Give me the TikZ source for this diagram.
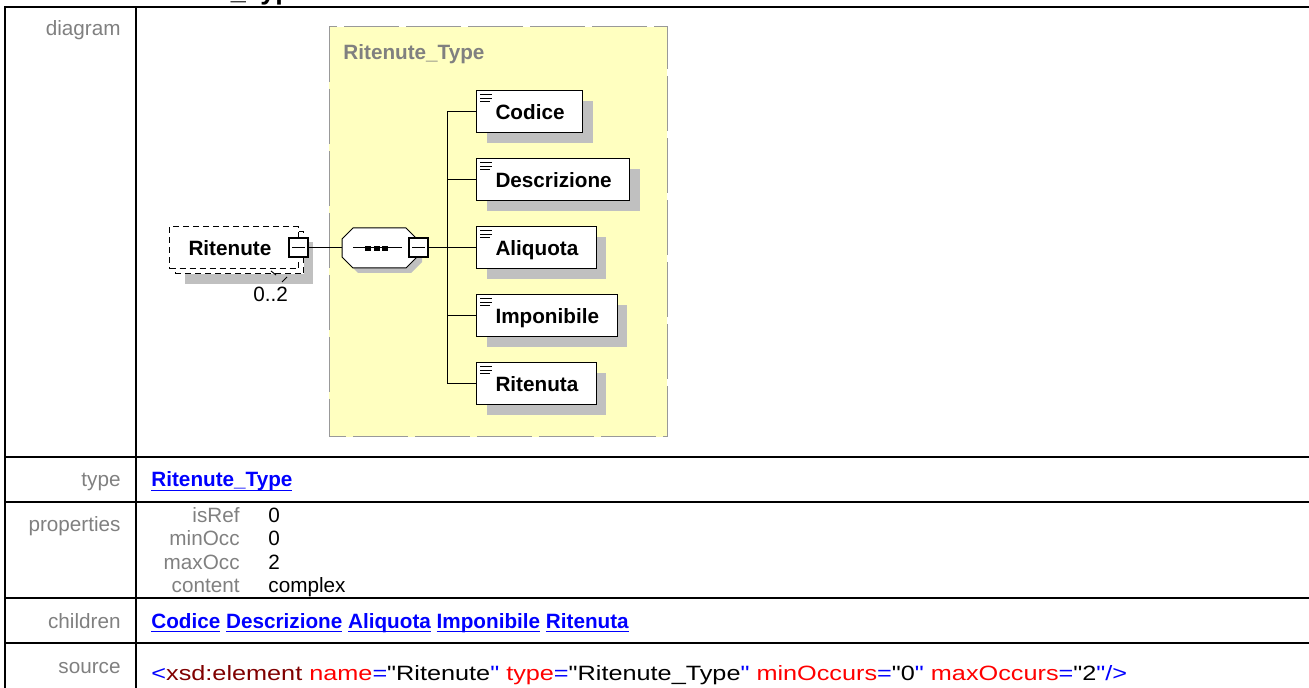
\documentclass[tikz,border=0pt]{standalone}
\usepackage{fontspec}
\setmainfont{Liberation Sans}
\usepackage{tikz}
\usetikzlibrary{calc}
\usetikzlibrary{shadows}
\definecolor{labelgrey}{HTML}{808080}
\definecolor{linkblue}{HTML}{0000FF}
\definecolor{shadowgrey}{HTML}{C0C0C0}
\definecolor{typeyellow}{HTML}{FFFFC0}
\definecolor{xsdred}{HTML}{FF0000}
\definecolor{xsddark}{HTML}{800000}
\newcommand{\docfont}{\fontsize{10.35}{12}\selectfont}
\newcommand{\ulink}[1]{\setbox0\hbox{#1}\rlap{\rule[-2.2pt]{\wd0}{0.9pt}}\box0\relax}
\newcommand{\qt}{\XeTeXglyph\XeTeXcharglyph"22\relax}

\begin{document}
\begin{tikzpicture}[x=0.5pt, y=-0.5pt, font=\docfont,
    rule/.style={line width=1pt},
    rowlabel/.style={anchor=base east, text=labelgrey, inner sep=0pt},
    rowtext/.style={anchor=base west, inner sep=0pt},
    link/.style={rowtext, text=linkblue, font=\docfont\bfseries},
    boxbase/.style={draw, line width=0.5pt, fill=white, anchor=west, inner sep=0pt,
      minimum height=21pt, text height=7.4pt, text depth=0pt, font=\docfont\bfseries,
      execute at begin node={\hspace*{9.5pt}}},
    elbox/.style={boxbase, execute at end node={\hspace*{9pt}},
      drop shadow={shadow xshift=5pt, shadow yshift=-5pt, fill=shadowgrey, opacity=1}},
    rootbox/.style={boxbase, dash pattern=on 3pt off 2pt, execute at end node={\hspace*{13.5pt}},
      drop shadow={shadow xshift=7.5pt, shadow yshift=-7.5pt, fill=shadowgrey, opacity=1},
      general shadow={shadow scale=1, shadow xshift=2.75pt, shadow yshift=-2.5pt, draw, fill=white,
        line width=0.5pt, dash pattern=on 3pt off 2pt}},
    minusbox/.style={draw, line width=1pt, fill=white, minimum size=9.5pt, inner sep=0pt,
      path picture={\draw[line width=0.5pt] ([xshift=1.5pt]path picture bounding box.west) -- ([xshift=-1.5pt]path picture bounding box.east);}}
  ]
    \useasboundingbox (0,0) rectangle (1309,688);
    \node[rowtext, font=\fontsize{13.5}{16}\selectfont\bfseries] (heading) at (13,0) {element Ritenute\_Type/Ritenute};
    \draw[rule] (5,692) -- (5,7) -- (1312,7);
    \draw[rule] (136,7) -- (136,692);
    \foreach \y in {457,502,598,643} {
      \draw[rule] (5,\y) -- (1312,\y);
    }
    \foreach \nm/\y in {diagram/36,type/487,properties/531,children/628,source/673} {
      \node[rowlabel] (lbl\nm) at (121,\y) {\nm};
    }
    \draw[draw=labelgrey!80, fill=typeyellow, line width=0.5pt, dash pattern=on 27.5pt off 3.5pt] (329,27) rectangle (667,437);
    \node[rowtext, text=labelgrey, font=\docfont\bfseries] (typetitle) at (343,60) {Ritenute\_Type};
    \node[rootbox] (ritenute) at (169,248) {Ritenute};
    \node[minusbox] (ritmin) at (ritenute.east) {};
    \node[rowtext] (occurs) at (253,302) {0..2};
    \draw[line width=0.5pt] (271,271) -- (276,275) (282,282) -- (287,277);
    \draw[line width=0.5pt, fill=white, drop shadow={shadow xshift=2.5pt, shadow yshift=-2.5pt, fill=shadowgrey, opacity=1}]
      (342,239) -- (353,228) -- (406,228) -- (417,239) -- (417,257) -- (406,268) -- (353,268) -- (342,257) -- cycle;
    \draw[line width=0.5pt] (353,248) -- (402,248);
    \foreach \x in {368,377,385} {
      \fill (\x-3,246) rectangle ++(6,5);
    }
    \coordinate (seqin) at (342,248);
    \node[minusbox] (seqmin) at (418.5,248) {};
    \coordinate (bus) at (447,248);
    \foreach \nm/\txt [count=\i] in {codice/Codice,descrizione/Descrizione,aliquota/Aliquota,imponibile/Imponibile,ritenuta/Ritenuta} {
      \node[elbox] (\nm) at (476,44+68*\i) {\txt};
      \draw[line width=0.5pt] (\nm.west) -| (bus);
      \foreach \dy/\len in {4/12,7.5/12,11/10} {
        \draw[line width=0.4pt] ($(\nm.north west)+(4,\dy)$) -- ++(\len,0);
      }
    }
    \draw[line width=0.5pt] (ritmin.east) -- (seqin);
    \draw[line width=0.5pt] (seqmin.east) -- (bus);
    \node[link] (typelink) at (151,487) {\ulink{Ritenute\_Type}};
    \foreach \k/\v [count=\i] in {isRef/0,minOcc/0,maxOcc/2,content/complex} {
      \node[rowlabel] (key\i) at (240,498.5+23.5*\i) {\k};
      \node[rowtext] (val\i) at (268,498.5+23.5*\i) {\v};
    }
    \node[link] (childlinks) at (151,628) {\ulink{Codice} \ulink{Descrizione} \ulink{Aliquota} \ulink{Imponibile} \ulink{Ritenuta}};
    \node[rowtext] (source) at (151,680) {\scalebox{1.22}[1]{\textcolor{linkblue}{<}\textcolor{xsddark}{xsd:element} \textcolor{xsdred}{name}\textcolor{linkblue}{=}\qt Ritenute\textcolor{linkblue}{\qt} \textcolor{xsdred}{type}\textcolor{linkblue}{=}\qt Ritenute\_Type\textcolor{linkblue}{\qt} \textcolor{xsdred}{minOccurs}\textcolor{linkblue}{=}\qt 0\textcolor{linkblue}{\qt} \textcolor{xsdred}{maxOccurs}\textcolor{linkblue}{=}\qt 2\textcolor{linkblue}{\qt/>}}};
\end{tikzpicture}
\end{document}
